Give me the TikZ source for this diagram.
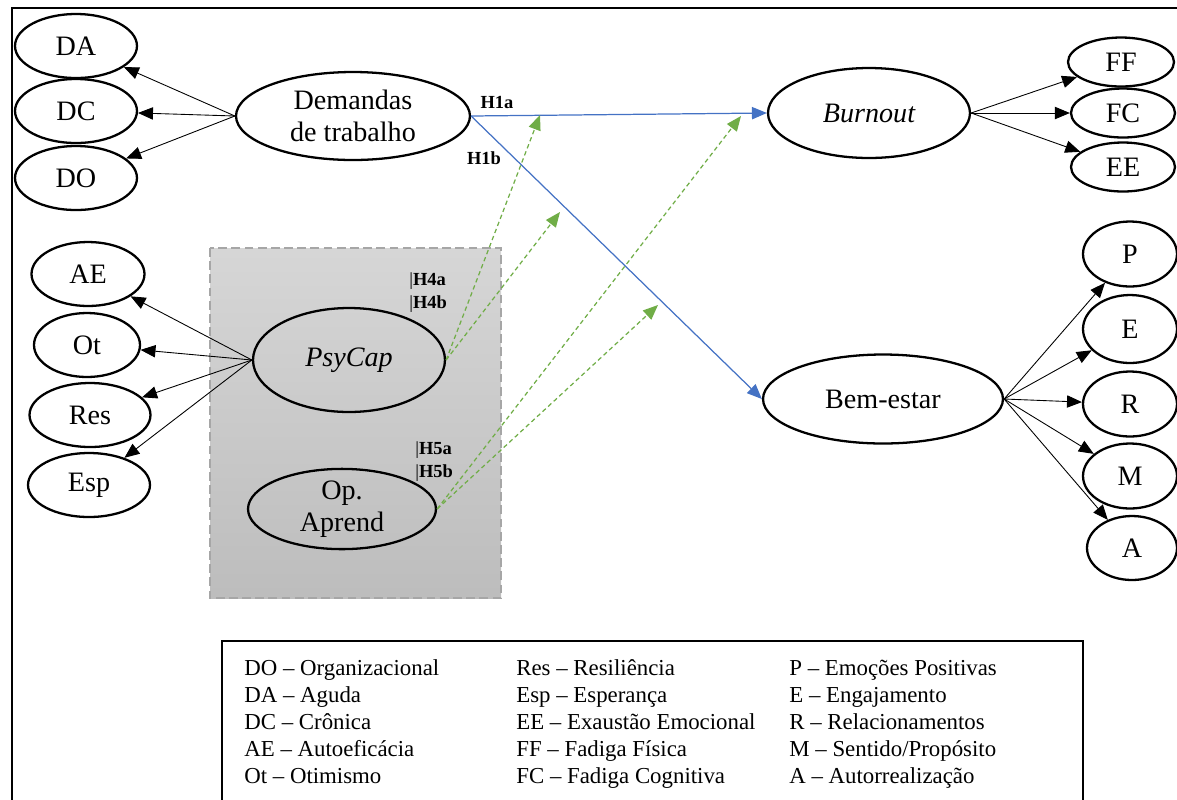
\documentclass[tikz,border=0pt]{standalone}
\usepackage{fontspec}
\setmainfont{Liberation Serif}
\usetikzlibrary{shapes.geometric,arrows.meta}
\definecolor{hblue}{HTML}{4472C4}
\definecolor{hgreen}{HTML}{70AD47}
\definecolor{boxgray}{HTML}{A6A6A6}

\begin{document}
\begin{tikzpicture}[
  x=0.02cm,
  y=-0.02cm,
  latent/.style={
    draw,
    ellipse,
    line width=1.3pt,
    inner sep=0pt,
    align=center,
    font=\fontsize{16}{18.3}\selectfont
  },
  ind/.style={
    latent,
    fill=white,
    minimum width=2.44cm,
    minimum height=1.28cm
  },
  load/.style={
    -{Triangle[length=8.5pt,width=7pt]},
    line width=0.5pt
  },
  path blue/.style={
    -{Triangle[length=8.5pt,width=7pt]},
    hblue,
    line width=0.7pt
  },
  path green/.style={
    -{Triangle[length=8.5pt,width=7pt]},
    hgreen,
    line width=0.7pt,
    dash pattern=on 2.5pt off 1.8pt
  },
  hyp/.style={
    inner sep=0pt,
    font=\fontsize{10.5}{12.5}\selectfont\bfseries
  },
  legtext/.style={
    anchor=base west,
    inner sep=0pt,
    font=\fontsize{13}{15}\selectfont
  },
]
\useasboundingbox (0,0) rectangle (1177,799);
\clip (0,0) rectangle (1177,799);
\draw[line width=1.1pt] (12,8) rectangle (1220,840);
\draw[boxgray,line width=1.2pt,dash pattern=on 5pt off 2.5pt,
  top color=black!16,bottom color=black!26] (210,248) rectangle (501,598);

\node[latent,minimum width=4.68cm,minimum height=1.76cm] (dem) at (353,116) {Demandas\\de trabalho};
\node[ind] (da) at (76,46) {DA};
\node[ind] (dc) at (76,111) {DC};
\node[ind] (do) at (76,178) {DO};

\node[latent,minimum width=4.04cm,minimum height=1.8cm] (burn) at (869,113) {\itshape Burnout};
\node[ind,minimum width=2.12cm,minimum height=0.98cm] (ff) at (1121,62) {FF};
\node[ind,minimum width=2.08cm,minimum height=0.98cm] (fc) at (1123,113) {FC};
\node[ind,minimum width=2.08cm,minimum height=0.98cm] (ee) at (1123,167) {EE};

\node[latent,minimum width=4.8cm,minimum height=1.78cm] (bem) at (883,399) {Bem-estar};
\node[ind,minimum width=1.88cm,minimum height=1.3cm] (p) at (1130,254) {P};
\node[ind,minimum width=1.88cm,minimum height=1.36cm] (e) at (1130,329) {E};
\node[ind,minimum width=1.88cm,minimum height=1.3cm] (r) at (1130,404) {R};
\node[ind,minimum width=1.88cm,minimum height=1.3cm] (m) at (1130,476) {M};
\node[ind,minimum width=1.8cm,minimum height=1.28cm] (a) at (1132,548) {A};

\node[latent,minimum width=3.84cm,minimum height=2.08cm] (psy) at (349,360) {\itshape PsyCap};
\node[latent,minimum width=3.76cm,minimum height=1.44cm] (opa) at (342,509) {Op.\\Aprend};
\node[ind,minimum width=2.26cm] (ae) at (88,274) {AE};
\node[ind,minimum width=2.12cm] (ot) at (87,345) {Ot};
\node[ind,minimum width=2.42cm] (res) at (90,415) {Res};
\node[ind,minimum width=2.44cm] (esp) at (89,485) {Esp};

\foreach \ind in {da,dc,do}
  \draw[load] (dem.west) -- (\ind);
\foreach \ind in {ff,fc,ee}
  \draw[load] (burn.east) -- (\ind);
\foreach \ind in {p,e,r,m,a}
  \draw[load] (bem.east) -- (\ind);
\foreach \ind in {ae,ot,res,esp}
  \draw[load] (psy.west) -- (\ind);

\draw[path blue] (dem.east) -- (burn.west);
\draw[path blue] (dem.east) -- (bem.west);

\coordinate (mod1) at (540,115);
\coordinate (mod2) at (560,212);
\coordinate (mod3) at (741,116);
\coordinate (mod4) at (658,305);
\draw[path green] (psy.east) -- (mod1);
\draw[path green] (psy.east) -- (mod2);
\draw[path green] (opa.east) -- (mod3);
\draw[path green] (opa.east) -- (mod4);

\node[hyp] (h1a) at (497,102) {H1a};
\node[hyp] (h1b) at (484,158) {H1b};
\node[hyp,anchor=west] (h4a) at (409,281) {{\normalfont|}H4a};
\node[hyp,anchor=west] (h4b) at (409,304) {{\normalfont|}H4b};
\node[hyp,anchor=west] (h5a) at (415,450) {{\normalfont|}H5a};
\node[hyp,anchor=west] (h5b) at (415,473) {{\normalfont|}H5b};

\draw[line width=1.3pt] (222,641) rectangle (1083,840);
\foreach \t [count=\i] in {DO -- Organizacional,DA -- Aguda,DC -- Crônica,AE -- Autoeficácia,Ot -- Otimismo}
  \node[legtext] (lega\i) at (244,{648+27*\i}) {\t};
\foreach \t [count=\i] in {Res -- Resiliência,Esp -- Esperança,EE -- Exaustão Emocional,FF -- Fadiga Física,FC -- Fadiga Cognitiva}
  \node[legtext] (legb\i) at (516,{648+27*\i}) {\t};
\foreach \t [count=\i] in {P -- Emoções Positivas,E -- Engajamento,R -- Relacionamentos,M -- Sentido/Propósito,A -- Autorrealização}
  \node[legtext] (legc\i) at (789,{648+27*\i}) {\t};
\end{tikzpicture}
\end{document}
